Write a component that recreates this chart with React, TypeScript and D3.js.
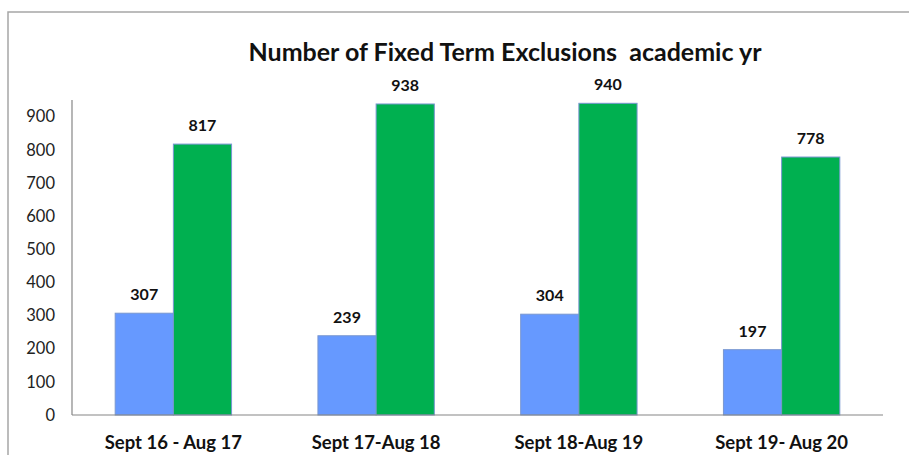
import React from 'react';
import * as d3 from 'd3';

const periods = ['Sept 16 - Aug 17', 'Sept 17-Aug 18', 'Sept 18-Aug 19', 'Sept 19- Aug 20'];
const seriesA = [307, 239, 304, 197];
const seriesB = [817, 938, 940, 778];
const yTicks = [0, 100, 200, 300, 400, 500, 600, 700, 800, 900];
const title = 'Number of Fixed Term Exclusions  academic yr';

const W = 909;
const H = 455;
const font = 'Lato, "Open Sans", sans-serif';

export default function App() {
  // plot area
  const m = { l: 72, r: 26, t: 100, b: 40 };
  const x0 = d3.scaleBand<string>().domain(periods).range([m.l, W - m.r]).padding(0);
  const y = d3.scaleLinear().domain([0, 950]).range([H - m.b, m.t]);
  const barW = x0.bandwidth() * 0.287;

  const bars = periods.flatMap((p, i) => {
    const c = (x0(p) ?? 0) + x0.bandwidth() / 2;
    return [
      { key: `a${i}`, x: c - barW, v: seriesA[i], fill: '#6699ff' },
      { key: `b${i}`, x: c, v: seriesB[i], fill: '#00b050' },
    ];
  });

  return (
    <svg width={W} height={H} style={{ position: 'absolute', left: 0, top: 0, background: '#fff' }}>
      <rect x={8} y={12} width={1000} height={1000} fill="#fff" stroke="#a6a6a6" strokeWidth={1.5} />
      <text x={505} y={61} textAnchor="middle" fontFamily={font} fontWeight="bold" fontSize={25} fill="#111" style={{ whiteSpace: 'pre' }}>
        {title}
      </text>

      {yTicks.map(t => (
        <text key={t} x={55} y={y(t)} dy="0.35em" textAnchor="end" fontFamily={font} fontSize={16.5} fill="#222">
          {t}
        </text>
      ))}

      {bars.map(b => (
        <g key={b.key}>
          <rect x={b.x} y={y(b.v)} width={barW} height={y(0) - y(b.v)} fill={b.fill} stroke="#7896d0" strokeWidth={1} />
          <text x={b.x + barW / 2} y={y(b.v) - 13} textAnchor="middle" fontFamily={font} fontWeight="bold" fontSize={16} fill="#111">
            {b.v}
          </text>
        </g>
      ))}

      <line x1={m.l} x2={m.l} y1={m.t} y2={y(0)} stroke="#868686" strokeWidth={1.2} />
      <line x1={m.l} x2={W - m.r} y1={y(0)} y2={y(0)} stroke="#868686" strokeWidth={1.2} />

      {periods.map(p => (
        <text key={p} x={(x0(p) ?? 0) + x0.bandwidth() / 2} y={449} textAnchor="middle" fontFamily={font} fontWeight="bold" fontSize={18.5} fill="#111">
          {p}
        </text>
      ))}
    </svg>
  );
}
